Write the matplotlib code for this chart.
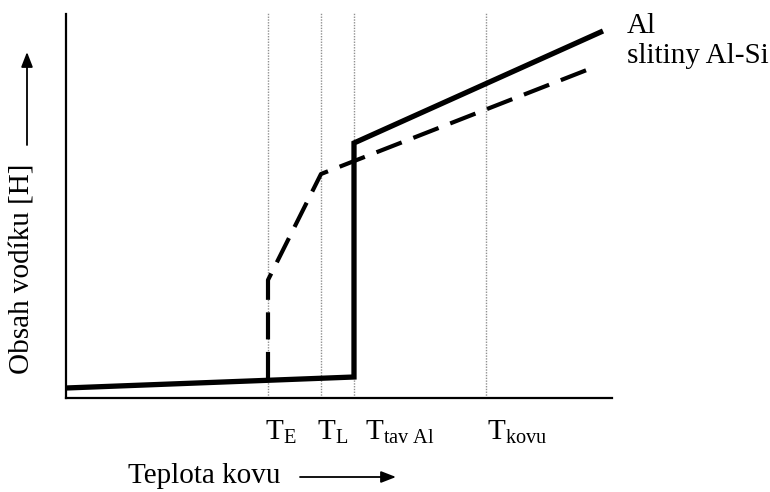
import matplotlib
matplotlib.use("Agg")
import matplotlib.pyplot as plt

plt.rcParams['font.family'] = ['Liberation Serif', 'DejaVu Serif']
plt.rcParams['mathtext.fontset'] = 'custom'
plt.rcParams['mathtext.rm'] = 'Liberation Serif'
plt.rcParams['mathtext.it'] = 'Liberation Serif:italic'

# Schematic data (arbitrary units)
temp_marks = [202, 255, 288, 420]
temp_labels = [r'$\mathrm{T_E}$', r'$\mathrm{T_L}$', r'$\mathrm{T_{tav\ Al}}$', r'$\mathrm{T_{kovu}}$']
al_x = [0, 288, 288, 537]
al_y = [10, 21, 255, 367]
alsi_x = [202, 202, 255, 531]
alsi_y = [19, 118, 224, 332]
series_labels = ['Al', 'slitiny Al-Si']

W, H = 770, 492
fig = plt.figure(figsize=(W / 100, H / 100), dpi=100)
ax = fig.add_axes([66 / W, (H - 398) / H, (612 - 66) / W, (398 - 14) / H])
ax.set_xlim(0, 546)
ax.set_ylim(0, 384)
for s in ['top', 'right']:
    ax.spines[s].set_visible(False)
for s in ['left', 'bottom']:
    ax.spines[s].set_linewidth(1.6)
ax.set_xticks([])
ax.set_yticks([])

for t in temp_marks:
    ax.plot([t, t], [0, 385], color='#909090', lw=1.0, ls=(0, (1, 1)), clip_on=False, zorder=1)

ax.plot(al_x, al_y, color='black', lw=3.8, solid_joinstyle='miter', solid_capstyle='butt', zorder=3)
ax.plot(alsi_x, alsi_y, color='black', lw=3.0, ls=(0, (6.5, 3.0)), dash_capstyle='butt', zorder=3)

# tick-like labels
label_px = [265, 317, 365, 487]
for lx, lab in zip(label_px, temp_labels):
    fig.text(lx / W, (H - 440) / H, lab, fontsize=21, ha='left', va='baseline')

# series labels
fig.text(627 / W, (H - 33) / H, series_labels[0], fontsize=21, ha='left', va='baseline')
fig.text(627 / W, (H - 63) / H, series_labels[1], fontsize=21, ha='left', va='baseline')

# axis titles
fig.text(128 / W, (H - 483) / H, 'Teplota kovu', fontsize=21, ha='left', va='baseline')
fig.text(23 / W, (H - 269) / H, 'Obsah vodíku [H]', fontsize=21, rotation=90, ha='center', va='center')

arrowprops = dict(arrowstyle='-|>,head_length=0.9,head_width=0.35', color='black', lw=1.3, shrinkA=0, shrinkB=0)
ax.annotate('', xy=(396, H - 477), xytext=(300, H - 477), xycoords='figure pixels', textcoords='figure pixels', arrowprops=arrowprops)
ax.annotate('', xy=(27, H - 52), xytext=(27, H - 145), xycoords='figure pixels', textcoords='figure pixels', arrowprops=arrowprops)

fig.savefig('out.png', dpi=100)
